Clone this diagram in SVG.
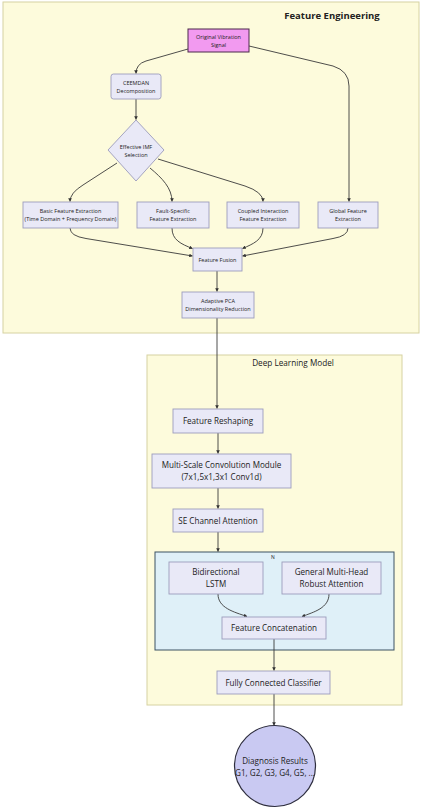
<svg xmlns="http://www.w3.org/2000/svg" width="423" height="810" viewBox="0 0 423 810">
<defs>
<marker id="ah" viewBox="0 0 10 10" refX="9" refY="5" markerWidth="4" markerHeight="4" orient="auto">
<path d="M0,0 L10,5 L0,10 z" fill="#333"/>
</marker>
<style>
.panel{fill:#fdfbdc;stroke:#d6d2a2;stroke-width:1}
.node{fill:#e9e9f7;stroke:#9c9cbc;stroke-width:0.9}
.t{font-family:"Open Sans","Noto Sans",sans-serif;fill:#222;text-anchor:middle}
.s{font-size:5.5px}
.m{font-size:8.1px}
.c{fill:none;stroke:#3a3a3a;stroke-width:0.9;marker-end:url(#ah)}
</style>
</defs>
<rect width="423" height="810" fill="#ffffff"/>
<g id="feature-engineering">
<rect class="panel" x="3" y="2" width="416" height="331"/>
<text class="t" x="332" y="19" style="font-size:9.5px;font-weight:bold">Feature Engineering</text>
</g>
<g id="deep-learning-model">
<rect class="panel" x="147" y="355" width="255" height="350"/>
<text class="t" x="293" y="366" style="font-size:8.2px">Deep Learning Model</text>
</g>
<g id="n-block">
<rect x="155" y="552" width="239" height="98" fill="#dff0f8" stroke="#3c5262" stroke-width="1"/>
<text class="t" x="273" y="559" style="font-size:5px">N</text>
</g>
<g id="connectors">
<path class="c" d="M188,49 L146,61 Q136,64 136,73.5"/>
<path class="c" d="M249,46 L333,66 Q349,71 349,86 L349,201.5"/>
<path class="c" d="M136,99 L136,119.5"/>
<path class="c" d="M117,163 L83,185 Q70,193 70,201.5"/>
<path class="c" d="M150,168 C162,178 172,188 172,201.5"/>
<path class="c" d="M158,159 L245,186 Q263,192 263,201.5"/>
<path class="c" d="M70,228 Q70,236 86,238.5 L192.5,256"/>
<path class="c" d="M172,228 C172,240 181,244 192.5,248.5"/>
<path class="c" d="M263,228 C263,240 253,244 242.5,248.5"/>
<path class="c" d="M348,228 Q348,236 333,238.5 L242.5,256"/>
<path class="c" d="M217,271 L217,291.5"/>
<path class="c" d="M217,318 L217,408.5"/>
<path class="c" d="M218,433 L218,453.5"/>
<path class="c" d="M218,488 L218,508.5"/>
<path class="c" d="M218,532 L218,551.5"/>
<path class="c" d="M218,594 C218,608 234,612 247,616.5"/>
<path class="c" d="M329,594 C329,608 314,612 302,616.5"/>
<path class="c" d="M274,639 L274,670.5"/>
<path class="c" d="M274,694 L274,725.5"/>
</g>
<g id="original-vibration-signal">
<rect x="188" y="29" width="61" height="23" fill="#f29af0" stroke="#4a2a4a" stroke-width="1"/>
<text class="t s" x="218.5" y="39">Original Vibration</text>
<text class="t s" x="218.5" y="46.5">Signal</text>
</g>
<g id="ceemdan">
<rect class="node" x="111" y="74" width="50" height="25" rx="2.5"/>
<text class="t s" x="136" y="85">CEEMDAN</text>
<text class="t s" x="136" y="92.5">Decomposition</text>
</g>
<g id="effective-imf-selection">
<polygon class="node" points="136,120 164,150 136,181 108,150"/>
<text class="t s" x="136" y="149">Effective IMF</text>
<text class="t s" x="136" y="156.5">Selection</text>
</g>
<g id="basic-feature-extraction">
<rect class="node" x="23" y="202" width="95" height="26"/>
<text class="t s" x="70.5" y="213">Basic Feature Extraction</text>
<text class="t s" x="70.5" y="221">(Time Domain + Frequency Domain)</text>
</g>
<g id="fault-specific">
<rect class="node" x="137" y="202" width="72" height="26"/>
<text class="t s" x="173" y="213">Fault-Specific</text>
<text class="t s" x="173" y="221">Feature Extraction</text>
</g>
<g id="coupled-interaction">
<rect class="node" x="227" y="202" width="72" height="26"/>
<text class="t s" x="263" y="213">Coupled Interaction</text>
<text class="t s" x="263" y="221">Feature Extraction</text>
</g>
<g id="global-feature">
<rect class="node" x="318" y="202" width="60" height="26"/>
<text class="t s" x="348" y="213">Global Feature</text>
<text class="t s" x="348" y="221">Extraction</text>
</g>
<g id="feature-fusion">
<rect class="node" x="193" y="248" width="49" height="23"/>
<text class="t s" x="217.5" y="261.5">Feature Fusion</text>
</g>
<g id="adaptive-pca">
<rect class="node" x="182" y="292" width="72" height="26"/>
<text class="t s" x="218" y="303">Adaptive PCA</text>
<text class="t s" x="218" y="311">Dimensionality Reduction</text>
</g>
<g id="feature-reshaping">
<rect class="node" x="173" y="409" width="90" height="24"/>
<text class="t m" x="218" y="424">Feature Reshaping</text>
</g>
<g id="multi-scale-convolution">
<rect class="node" x="152" y="454" width="139" height="34"/>
<text class="t m" x="221.5" y="468">Multi-Scale Convolution Module</text>
<text class="t m" x="221.5" y="480">(7x1,5x1,3x1 Conv1d)</text>
</g>
<g id="se-channel-attention">
<rect class="node" x="173" y="509" width="90" height="23"/>
<text class="t m" x="218" y="523.5">SE Channel Attention</text>
</g>
<g id="bidirectional-lstm">
<rect class="node" x="169" y="562" width="94" height="32"/>
<text class="t m" x="216" y="575">Bidirectional</text>
<text class="t m" x="216" y="587">LSTM</text>
</g>
<g id="general-multi-head">
<rect class="node" x="282" y="562" width="99" height="32"/>
<text class="t m" x="331.5" y="575">General Multi-Head</text>
<text class="t m" x="331.5" y="587">Robust Attention</text>
</g>
<g id="feature-concatenation">
<rect class="node" x="222" y="617" width="104" height="22"/>
<text class="t m" x="274" y="630.5">Feature Concatenation</text>
</g>
<g id="fully-connected-classifier">
<rect class="node" x="217" y="671" width="113" height="23"/>
<text class="t m" x="273.5" y="685.5">Fully Connected Classifier</text>
</g>
<g id="diagnosis-results">
<circle cx="275" cy="766" r="40.5" fill="#c9c9f2" stroke="#2e2e3e" stroke-width="1.2"/>
<text class="t m" x="275" y="764">Diagnosis Results</text>
<text class="t m" x="275" y="775.5">G1, G2, G3, G4, G5, ...</text>
</g>
</svg>
